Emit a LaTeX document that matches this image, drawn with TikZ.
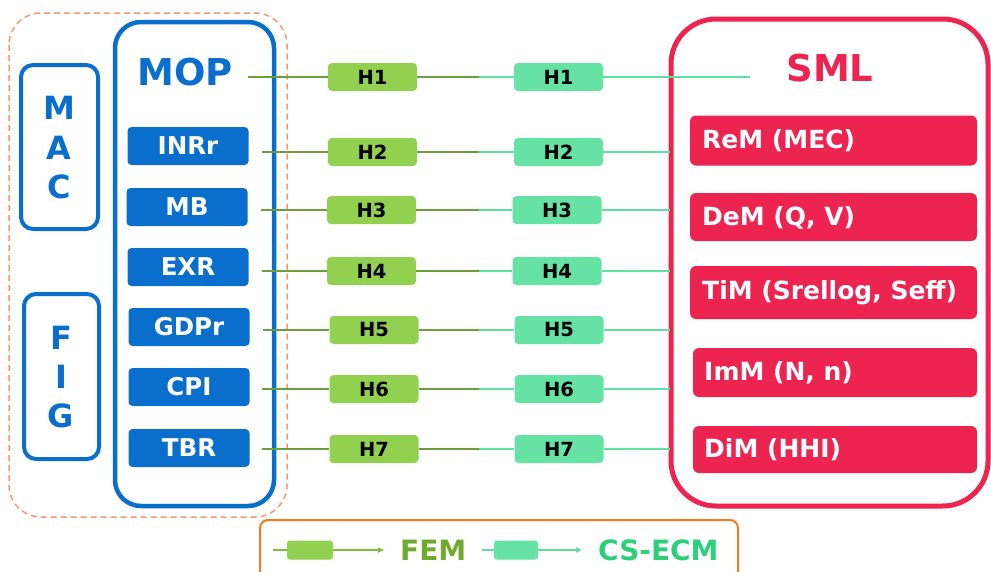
\documentclass[tikz,border=0pt]{standalone}
\usepackage{fontspec}
\setmainfont{DejaVu Sans}
\usetikzlibrary{arrows.meta}
\definecolor{mblue}{HTML}{0A6FCC}
\definecolor{mred}{HTML}{EE2450}
\definecolor{gbox}{HTML}{92D050}
\definecolor{gline}{HTML}{6E9E3C}
\definecolor{gtext}{HTML}{6FAA2E}
\definecolor{glegend}{HTML}{7DBE3A}
\definecolor{cbox}{HTML}{66E2A4}
\definecolor{cline}{HTML}{5EE0A0}
\definecolor{ctext}{HTML}{2DD07A}
\definecolor{odash}{HTML}{F59A70}
\definecolor{olegend}{HTML}{F47A1E}
\tikzset{
  bluebox/.style={fill=mblue, rounded corners=4pt, minimum width=121pt, minimum height=38pt, inner sep=0pt, text=white, font=\fontsize{24.5}{24.5}\selectfont\bfseries},
  redbox/.style={fill=mred, rounded corners=6pt, inner sep=0pt, minimum height=50pt},
  redtext/.style={anchor=west, inner sep=0pt, text=white, font=\fontsize{25}{25}\selectfont\bfseries},
  fembox/.style={fill=gbox, rounded corners=4pt, minimum width=89pt, minimum height=28pt, inner sep=0pt, font=\fontsize{19.5}{19.5}\selectfont\bfseries},
  csbox/.style={fill=cbox, rounded corners=4pt, minimum width=89pt, minimum height=28pt, inner sep=0pt, font=\fontsize{19.5}{19.5}\selectfont\bfseries},
  femline/.style={draw=gline, line width=2pt},
  csline/.style={draw=cline, line width=2pt},
  letterbox/.style={draw=mblue, line width=4pt, rounded corners=12pt},
  letter/.style={text=mblue, inner sep=0pt, font=\fontsize{32}{32}\selectfont\bfseries},
}
\begin{document}
\begin{tikzpicture}[x=1pt,y=-1pt]
\useasboundingbox (0,0) rectangle (991,571);
\clip (0,0) rectangle (991,571);
\fill[white] (0,0) rectangle (991,571);
% outer dashed group
\draw[odash, line width=1.5pt, dash pattern=on 6pt off 4pt, rounded corners=32pt] (9,13) rectangle (287,517);
% MAC / FIG
\draw[letterbox] (21,65) rectangle (98,229);
\node[letter] (mM) at (59,108) {M};
\node[letter] (mA) at (59,148) {A};
\node[letter] (mC) at (59,187) {C};
\draw[letterbox] (24,294) rectangle (99,459);
\node[letter] (fF) at (61,338) {F};
\node[letter] (fI) at (61,377) {I};
\node[letter] (fG) at (61,416) {G};
% MOP box
\draw[mblue, line width=4.5pt, rounded corners=26pt] (115,22) rectangle (274,506);
\node[text=mblue, inner sep=0pt, font=\fontsize{37}{37}\selectfont\bfseries] (mop) at (185,72) {MOP};
\node[bluebox] (b2) at (188,146) {INRr};
\node[bluebox] (b3) at (187,207) {MB};
\node[bluebox] (b4) at (188,267) {EXR};
\node[bluebox] (b5) at (189,327) {GDPr};
\node[bluebox] (b6) at (189,387) {CPI};
\node[bluebox] (b7) at (189,448) {TBR};
% SML box
\draw[mred, line width=5pt, rounded corners=45pt] (671,19) rectangle (988,506);
\node[text=mred, inner sep=0pt, font=\fontsize{37}{37}\selectfont\bfseries] (sml) at (830,68) {SML};
\node[redbox, minimum width=287pt] (r2) at (833.5,140.5) {};
\node[redtext] (t2) at (702,141) {ReM (MEC)};
\node[redbox, minimum width=287pt, minimum height=48pt] (r3) at (833.5,217) {};
\node[redtext] (t3) at (702,218) {DeM (Q, V)};
\node[redbox, minimum width=287pt, minimum height=53pt] (r4) at (833.5,292.5) {};
\node[redtext] (t4) at (702,293) {TiM (Srellog, Seff)};
\node[redbox, minimum width=284pt, minimum height=49pt] (r5) at (835,372.5) {};
\node[redtext] (t5) at (704,373) {ImM (N, n)};
\node[redbox, minimum width=284pt, minimum height=47pt] (r6) at (835,449.5) {};
\node[redtext] (t6) at (704,450) {DiM (HHI)};
% hypothesis rows
\foreach \i/\y/\gx/\cx/\sx/\ex in {1/77/372.5/558.5/248/750, 2/152/372.5/558.5/262/670, 3/210/371.5/557/261/670, 4/271/371.5/557/262/670, 5/330/374/559/263/670, 6/389/374/559/262/670, 7/449/374/559/262/670}{
  \node[fembox] (g\i) at (\gx,\y) {H\i};
  \node[csbox] (c\i) at (\cx,\y) {H\i};
  \coordinate (m\i) at (479,\y);
  \coordinate (s\i) at (\sx,\y);
  \coordinate (e\i) at (\ex,\y);
}
\foreach \i in {1,...,7}{
  \draw[femline] (s\i) -- (g\i.west);
  \draw[femline] (g\i.east) -- (m\i);
  \draw[csline] (m\i) -- (c\i.west);
  \draw[csline] (c\i.east) -- (e\i);
}
% legend
\draw[olegend, line width=2pt, rounded corners=8pt] (260,520) rectangle (738,585);
\node[fill=gbox, rounded corners=3pt, minimum width=46pt, minimum height=19pt, inner sep=0pt] (lg) at (310,550) {};
\coordinate (lg0) at (273,550);
\coordinate (lg1) at (384,550);
\draw[glegend, line width=2pt] (lg0) -- (lg.west);
\draw[glegend, line width=2pt, -{Triangle[length=6pt,width=5pt]}] (lg.east) -- (lg1);
\node[text=gtext, inner sep=0pt, anchor=west, font=\fontsize{28}{28}\selectfont\bfseries] (fem) at (400,550) {FEM};
\node[fill=cbox, rounded corners=3pt, minimum width=44pt, minimum height=19pt, inner sep=0pt] (lc) at (516,550) {};
\coordinate (lc0) at (482,550);
\coordinate (lc1) at (582,550);
\draw[cline, line width=2pt] (lc0) -- (lc.west);
\draw[cline, line width=2pt, -{Triangle[length=6pt,width=5pt]}] (lc.east) -- (lc1);
\node[text=ctext, inner sep=0pt, anchor=west, font=\fontsize{28}{28}\selectfont\bfseries] (csecm) at (598,550) {CS-ECM};
\end{tikzpicture}
\end{document}
